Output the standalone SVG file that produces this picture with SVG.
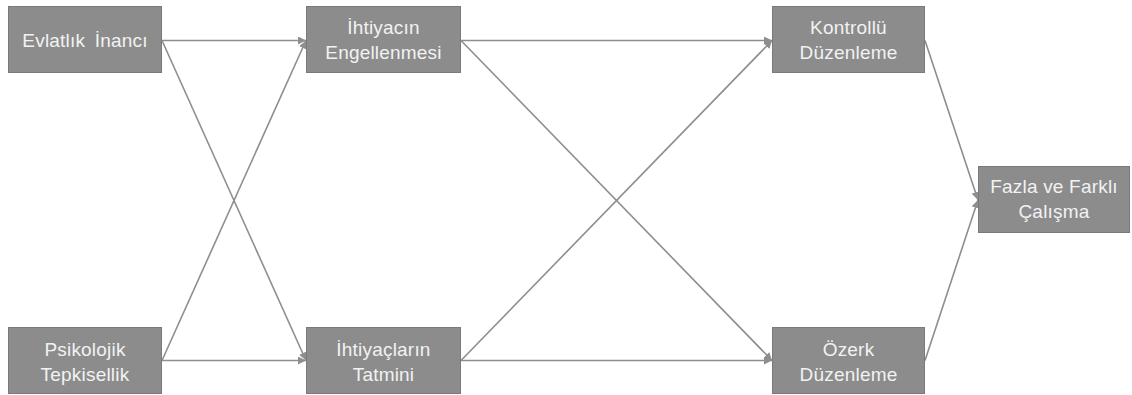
<svg xmlns="http://www.w3.org/2000/svg" width="1132" height="395" viewBox="0 0 1132 395">
<style>
.box{fill:#8c8c8c;stroke:#7a7a7a;stroke-width:1}
.t{font-family:"Liberation Sans",Arial,sans-serif;font-size:19px;fill:#f2f2f2;text-anchor:middle;letter-spacing:0.2px}
.c{stroke:#8e8e8e;stroke-width:1.6;fill:none;marker-end:url(#ah)}
</style>
<defs>
<marker id="ah" viewBox="0 0 10 10" refX="10" refY="5" markerWidth="5" markerHeight="5" orient="auto" markerUnits="strokeWidth">
<path d="M0,0 L10,5 L0,10 z" fill="#8e8e8e"/>
</marker>
</defs>
<rect width="1132" height="395" fill="#ffffff"/>
<g id="connectors">
<line class="c" x1="162" y1="40.5" x2="306" y2="40.5"/>
<line class="c" x1="162" y1="40.5" x2="306" y2="360.5"/>
<line class="c" x1="162" y1="360.5" x2="306" y2="40.5"/>
<line class="c" x1="162" y1="360.5" x2="306" y2="360.5"/>
<line class="c" x1="461" y1="40.5" x2="772" y2="40.5"/>
<line class="c" x1="461" y1="40.5" x2="772" y2="360.5"/>
<line class="c" x1="461" y1="360.5" x2="772" y2="40.5"/>
<line class="c" x1="461" y1="360.5" x2="772" y2="360.5"/>
<line class="c" x1="925" y1="40.5" x2="978" y2="200"/>
<line class="c" x1="925" y1="360.5" x2="978" y2="200"/>
</g>
<g id="evlatlik">
<rect class="box" x="8.5" y="6.5" width="153" height="66"/>
<text class="t" x="85" y="47" word-spacing="4">Evlatlık İnancı</text>
</g>
<g id="psikolojik">
<rect class="box" x="8.5" y="327.5" width="153" height="66"/>
<text class="t" x="85" y="356">Psikolojik</text>
<text class="t" x="85" y="381">Tepkisellik</text>
</g>
<g id="engellenme">
<rect class="box" x="306.5" y="6.5" width="154" height="66"/>
<text class="t" x="383.5" y="34">İhtiyacın</text>
<text class="t" x="383.5" y="59">Engellenmesi</text>
</g>
<g id="tatmin">
<rect class="box" x="306.5" y="327.5" width="154" height="66"/>
<text class="t" x="383.5" y="356">İhtiyaçların</text>
<text class="t" x="383.5" y="381">Tatmini</text>
</g>
<g id="kontrollu">
<rect class="box" x="772.5" y="6.5" width="152" height="66"/>
<text class="t" x="848.5" y="34">Kontrollü</text>
<text class="t" x="848.5" y="59">Düzenleme</text>
</g>
<g id="ozerk">
<rect class="box" x="772.5" y="327.5" width="152" height="66"/>
<text class="t" x="848.5" y="356">Özerk</text>
<text class="t" x="848.5" y="381">Düzenleme</text>
</g>
<g id="fazla">
<rect class="box" x="978.5" y="166.5" width="151" height="66"/>
<text class="t" x="1054" y="193">Fazla ve Farklı</text>
<text class="t" x="1054" y="218">Çalışma</text>
</g>
</svg>
